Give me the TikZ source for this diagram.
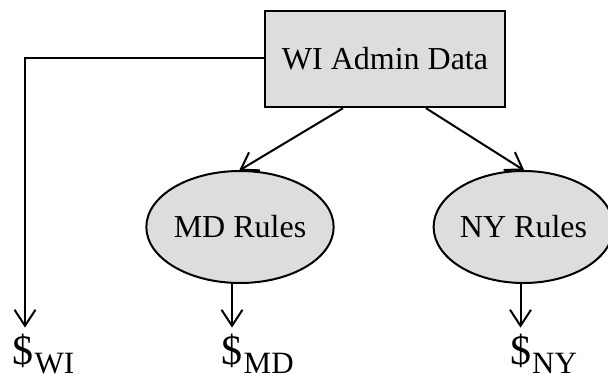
\documentclass[tikz,border=0pt]{standalone}
\usepackage{fontspec}
\setmainfont{Liberation Serif}
\usetikzlibrary{arrows.meta,shapes.geometric}
\definecolor{boxgray}{RGB}{221,221,221}
\tikzset{
  boxnode/.style={draw=black, line width=2.4pt, fill=boxgray, minimum width=240pt, minimum height=96pt, inner sep=0pt,
    font=\fontsize{32}{38}\selectfont},
  rulenode/.style={ellipse, draw=black, line width=2pt, fill=boxgray, inner sep=0pt,
    font=\fontsize{32}{38}\selectfont},
  dollar/.style={anchor=base, inner sep=0pt, outer sep=0pt, font=\fontsize{42}{50}\selectfont},
  subtext/.style={anchor=base west, inner sep=0pt, font=\fontsize{31}{36}\selectfont},
  conn/.style={line width=2pt, -{Straight Barb[length=16pt,width=21pt,line width=2pt]}, shorten >=-1pt}
}
\begin{document}
\begin{tikzpicture}[x=1pt,y=-1pt]
\useasboundingbox (0,0) rectangle (608,378);
\node[boxnode] (admin) at (385,59) {WI Admin Data};
\node[rulenode, minimum width=176pt, minimum height=112pt] (md) at (240,227) {MD Rules};
\node[rulenode, minimum width=166pt, minimum height=112pt] (ny) at (523.5,227) {NY Rules};
\node[dollar] (dwi) at (23,364) {\$};
\node[subtext] (swi) at ([xshift=1pt,yshift=-9pt]dwi.base east) {WI};
\node[dollar] (dmd) at (232,364) {\$};
\node[subtext] (smd) at ([xshift=1pt,yshift=-9pt]dmd.base east) {MD};
\node[dollar] (dny) at (520.5,364) {\$};
\node[subtext] (sny) at ([xshift=1pt,yshift=-9pt]dny.base east) {NY};
\coordinate (corner) at (25,58);
\draw[conn, shorten >=6pt] (admin.west |- corner) -- (corner) -- (corner |- dwi.north);
\draw[conn] (admin.south -| 343,0) -- (md.north);
\draw[conn] (admin.south -| 426,0) -- (ny.north);
\draw[conn, shorten >=6pt] (md.south -| dmd.north) -- (dmd.north);
\draw[conn, shorten >=6pt] (ny.south -| dny.north) -- (dny.north);
\end{tikzpicture}
\end{document}
